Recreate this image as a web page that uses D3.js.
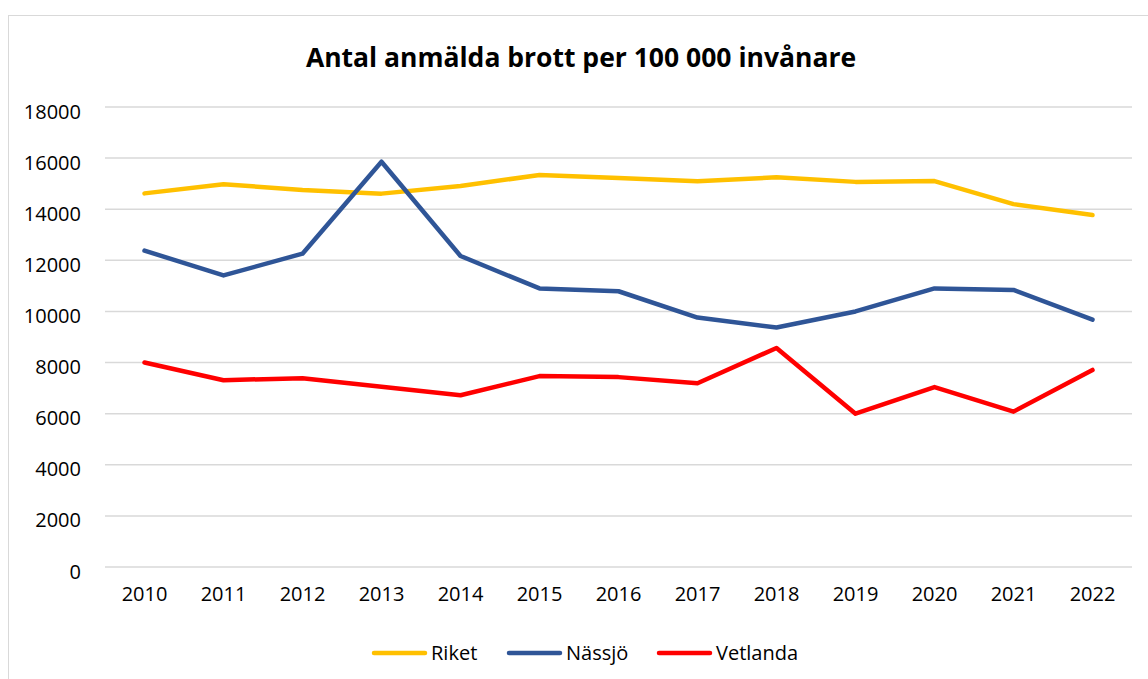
<!DOCTYPE html>
<html>
<head>
<meta charset="utf-8">
<script src="https://cdn.jsdelivr.net/npm/d3@7"></script>
<style>
  body { margin: 0; background: #fff; }
  svg { display: block; font-family: "Open Sans", "Noto Sans", sans-serif; }
</style>
</head>
<body>
<svg id="chart"></svg>
<script>
// data
const years = ["2010", "2011", "2012", "2013", "2014", "2015", "2016",
               "2017", "2018", "2019", "2020", "2021", "2022"];
const riket    = [14620, 14980, 14750, 14610, 14910, 15340, 15220, 15090, 15250, 15070, 15100, 14200, 13770];
const nassjo   = [12380, 11410, 12260, 15860, 12170, 10900, 10790, 9760, 9370, 10000, 10900, 10840, 9680];
const vetlanda = [8000, 7310, 7390, 7050, 6720, 7470, 7430, 7190, 8570, 6000, 7040, 6080, 7710];
const yTicks = [0, 2000, 4000, 6000, 8000, 10000, 12000, 14000, 16000, 18000];

const series = [
    { name: "Riket", values: riket, color: "#FFC000" },
    { name: "Nässjö", values: nassjo, color: "#2F5597" },
    { name: "Vetlanda", values: vetlanda, color: "#FF0000" }
];

const W = 1148, H = 679;
const margin = { top: 107, right: 16, bottom: 112, left: 105 };
const width = W - margin.left - margin.right;
const height = H - margin.top - margin.bottom;

const svg = d3.select("#chart").attr("width", W).attr("height", H);

// outer chart frame
svg.append("rect")
    .attr("x", 8.5).attr("y", 15.5)
    .attr("width", W).attr("height", H)
    .attr("fill", "none")
    .attr("stroke", "#d9d9d9");

// title
svg.append("text")
    .attr("x", 581).attr("y", 67)
    .attr("text-anchor", "middle")
    .attr("font-size", "26.5px")
    .attr("font-weight", "bold")
    .attr("fill", "#000")
    .text("Antal anmälda brott per 100 000 invånare");

const g = svg.append("g").attr("transform", `translate(${margin.left},${margin.top})`);

const x = d3.scaleBand().domain(years).range([0, width]);
const y = d3.scaleLinear().domain([0, 18000]).range([height, 0]);

// gridlines
g.append("g")
    .selectAll("line")
    .data(yTicks)
    .enter().append("line")
    .attr("x1", 0).attr("x2", width)
    .attr("y1", d => y(d)).attr("y2", d => y(d))
    .attr("stroke", "#d9d9d9")
    .attr("stroke-width", 1.5);

// y axis labels
const yAxis = g.append("g")
    .call(d3.axisLeft(y).tickValues(yTicks).tickSize(0).tickPadding(24).tickFormat(d3.format("d")));
yAxis.select(".domain").remove();
yAxis.selectAll("text")
    .attr("font-size", "20px").attr("fill", "#000")
    .attr("font-family", "\"Open Sans\", sans-serif")
    .attr("dy", "0.55em");

// x axis labels
const xAxis = g.append("g")
    .attr("transform", `translate(0,${height})`)
    .call(d3.axisBottom(x).tickSize(0).tickPadding(20));
xAxis.select(".domain").remove();
xAxis.selectAll("text").attr("font-size", "20px").attr("fill", "#000")
    .attr("font-family", "\"Open Sans\", sans-serif");

// lines
const line = d3.line()
    .x((d, i) => x(years[i]) + x.bandwidth() / 2)
    .y(d => y(d));

g.selectAll(".series")
    .data(series)
    .enter().append("path")
    .attr("class", "series")
    .attr("d", d => line(d.values))
    .attr("fill", "none")
    .attr("stroke", d => d.color)
    .attr("stroke-width", 4.5)
    .attr("stroke-linejoin", "round")
    .attr("stroke-linecap", "round");

// legend
const legend = svg.append("g").attr("transform", "translate(0,653)");
const legendX = [374, 509, 659];
series.forEach((s, i) => {
    const item = legend.append("g").attr("transform", `translate(${legendX[i]},0)`);
    item.append("line")
        .attr("x1", 0).attr("x2", 51)
        .attr("y1", 0).attr("y2", 0)
        .attr("stroke", s.color)
        .attr("stroke-width", 4.5)
        .attr("stroke-linecap", "round");
    item.append("text")
        .attr("x", 57).attr("y", 7)
        .attr("font-size", "20px")
        .attr("fill", "#000")
        .text(s.name);
});
</script>
</body>
</html>
